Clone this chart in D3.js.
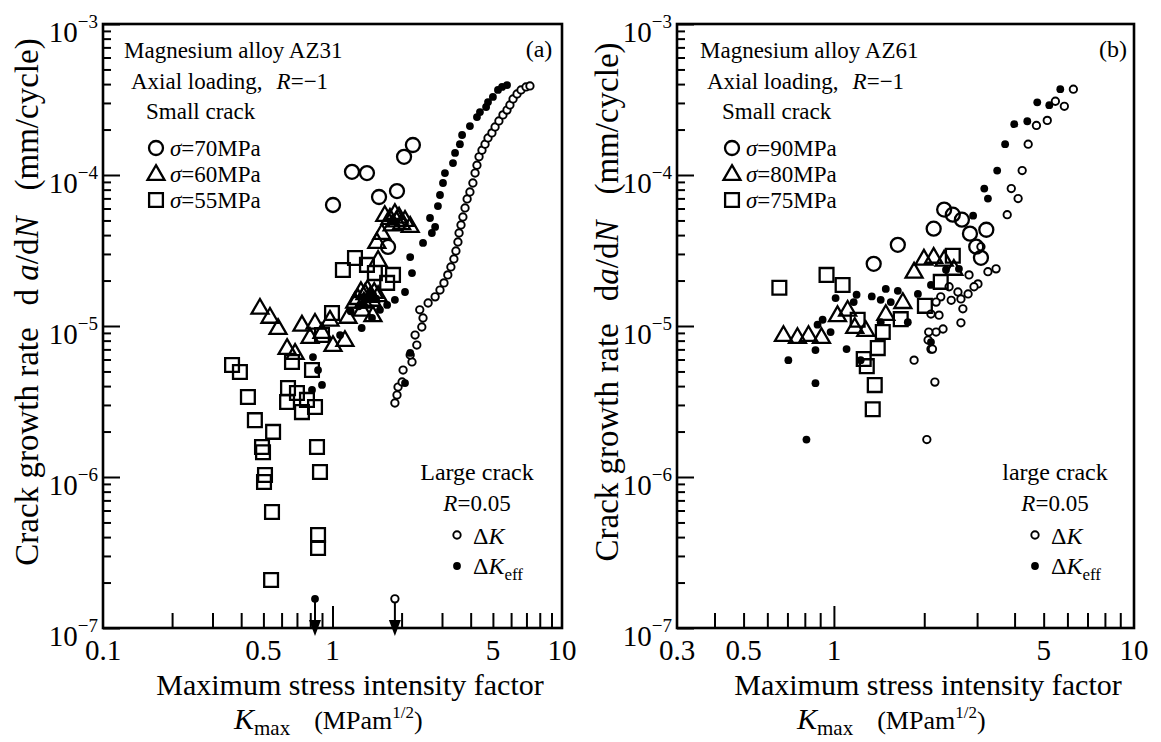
<!DOCTYPE html>
<html>
<head>
<meta charset="utf-8">
<script src="https://cdn.jsdelivr.net/npm/d3@7"></script>
<style>
  body { margin: 0; background: #fff; }
  svg { display: block; font-family: "Liberation Serif", "Times New Roman", serif; }
</style>
</head>
<body>
<svg id="chart" width="1161" height="742"></svg>
<script>
// ---- data: [Kmax (MPa m^1/2), da/dN (mm/cycle)] ----

// (a) AZ31, small cracks
const az31Sigma70 = [[1.005,6.33e-5],[1.216,1.05e-4],[1.413,1.03e-4],[1.595,7.15e-5],[1.91,7.83e-5],
  [2.05,1.32e-4],[2.24,1.58e-4],[1.746,3.34e-5]];
const az31Sigma60 = [[1.69,5.43e-5],[1.87,5.6e-5],[2.07,5.04e-5],[2.18,4.6e-5],[1.64,4.13e-5],[1.56,3.6e-5],
  [1.58,2.74e-5],[0.483,1.32e-5],[0.534,1.15e-5],[0.579,9.7e-6],[0.736,1.02e-5],[0.839,1.05e-5],
  [0.634,7.15e-6],[0.687,6.63e-6],[0.798,8.45e-6],[1.005,7.48e-6],[1.133,8.07e-6],[1.168,1.15e-5],
  [1.5,1.18e-5],[1.345,1.28e-5],[1.29,1.53e-5],[1.386,1.65e-5],[1.486,1.49e-5],[1.58,1.6e-5],
  [0.9,9.12e-6],[0.975,1.1e-5],[1.78,5.2e-5],[1.95,5.3e-5],[2.0,4.8e-5],[1.82,4.7e-5],[1.9,5.0e-5],
  [1.33,1.7e-5],[1.42,1.75e-5],[1.46,1.58e-5],[1.37,1.45e-5],[1.52,1.68e-5],[1.25,1.45e-5]];
const az31Sigma55 = [[1.11,2.35e-5],[1.253,2.82e-5],[1.413,2.54e-5],[1.53,2.24e-5],[1.835,2.18e-5],
  [1.73,1.93e-5],[0.995,1.22e-5],[0.9,8.71e-6],[0.666,5.78e-6],[0.365,5.52e-6],[0.395,4.96e-6],
  [0.428,3.39e-6],[0.814,5.11e-6],[0.64,3.88e-6],[0.7,3.6e-6],[0.634,3.14e-6],[0.774,3.24e-6],
  [0.839,2.91e-6],[0.736,2.69e-6],[0.459,2.38e-6],[0.551,1.99e-6],[0.493,1.58e-6],[0.498,1.46e-6],
  [0.856,1.58e-6],[0.508,1.03e-6],[0.882,1.08e-6],[0.503,9.27e-7],[0.545,5.86e-7],[0.54,2.08e-7],
  [0.865,4.13e-7],[0.865,3.39e-7]];
// (a) AZ31, large crack R=0.05
const az31LargeDK = [[1.87,3.09e-6],[1.91,3.49e-6],[1.93,3.94e-6],[2.01,4.26e-6],[2.03,5.11e-6],
  [2.22,5.78e-6],[2.18,6.43e-6],[2.33,7.48e-6],[2.29,8.71e-6],[2.45,9.85e-6],[2.48,1.13e-5],
  [2.4,1.28e-5],[2.61,1.42e-5],[2.8,1.56e-5],[2.94,1.73e-5],[3.06,1.93e-5],[3.18,2.18e-5],
  [3.28,2.46e-5],[3.38,2.78e-5],[3.45,3.14e-5],[3.52,3.6e-5],[3.56,4.13e-5],[3.63,4.67e-5],
  [3.7,5.27e-5],[3.78,6.05e-5],[3.86,6.94e-5],[3.97,7.72e-5],[4.09,8.85e-5],[4.18,1.03e-4],
  [4.26,1.16e-4],[4.35,1.32e-4],[4.48,1.46e-4],[4.62,1.6e-4],[4.76,1.76e-4],[4.95,1.9e-4],
  [5.11,2.08e-4],[5.31,2.28e-4],[5.53,2.5e-4],[5.76,2.69e-4],[5.93,2.91e-4],[6.12,3.19e-4],
  [6.37,3.44e-4],[6.63,3.66e-4],[6.97,3.83e-4],[7.25,3.89e-4]];
const az31LargeDKeff = [[0.822,6.23e-6],[0.865,5.11e-6],[0.9,4.07e-6],[0.814,3.77e-6],[1.079,8.71e-6],
  [1.34,9.7e-6],[1.486,1.13e-5],[1.61,1.28e-5],[1.87,1.49e-5],[1.73,1.38e-5],[2.07,1.68e-5],
  [2.22,2.24e-5],[2.18,2.86e-5],[2.48,3.55e-5],[2.71,4.13e-5],[2.8,4.53e-5],[2.66,5.19e-5],
  [2.88,6.23e-5],[2.94,7.37e-5],[3.03,8.85e-5],[3.09,1.03e-4],[3.35,1.2e-4],[3.42,1.4e-4],
  [3.59,1.6e-4],[3.67,1.84e-4],[3.97,2.11e-4],[4.26,2.42e-4],[4.39,2.61e-4],[4.67,2.82e-4],
  [4.76,3.04e-4],[5.0,3.29e-4],[5.26,3.66e-4],[5.48,3.83e-4],[5.76,3.94e-4],[2.18,6.63e-6],
  [2.07,4.19e-6],[1.4,1.5e-5],[1.5,1.62e-5],[1.55,1.52e-5],[1.3,1.35e-5],[1.2,1.25e-5]];
// points with a down arrow (rate below 1e-7): [K, rate, filled?]
const az31Arrows = [[0.839,1.56e-7,true],[1.87,1.56e-7,false]];

// (b) AZ61, small cracks
const az61Sigma90 = [[2.33,5.9e-5],[2.49,5.46e-5],[2.67,5.06e-5],[2.15,4.41e-5],[2.84,4.09e-5],
  [3.22,4.34e-5],[2.98,3.35e-5],[3.09,2.83e-5],[1.633,3.45e-5],[1.357,2.58e-5]];
const az61Sigma80 = [[0.679,8.71e-6],[0.756,8.45e-6],[0.823,8.71e-6],[0.909,8.45e-6],[1.028,1.18e-5],
  [1.111,1.28e-5],[1.173,9.85e-6],[1.277,9.4e-6],[1.489,1.2e-5],[1.697,1.44e-5],[1.85,2.29e-5],
  [1.995,2.79e-5],[2.15,2.87e-5],[2.33,2.75e-5],[2.51,2.39e-5]];
const az61Sigma75 = [[0.658,1.79e-5],[0.945,2.18e-5],[1.069,1.87e-5],[2.49,2.92e-5],[2.27,1.96e-5],
  [2.01,1.36e-5],[1.67,1.11e-5],[1.2,1.1e-5],[1.455,9.12e-6],[1.4,7.14e-6],[1.257,6.04e-6],
  [1.287,5.42e-6],[1.368,4.06e-6],[1.347,2.81e-6]];
// (b) AZ61, large crack R=0.05
const az61LargeDK = [[6.28,3.7e-4],[5.47,3.08e-4],[5.86,2.85e-4],[5.14,2.3e-4],[4.73,2.13e-4],
  [4.44,1.6e-4],[4.24,1.07e-4],[3.9,8.13e-5],[4.11,6.98e-5],[3.78,5.46e-5],[3.09,3.35e-5],
  [2.82,2.18e-5],[3.02,1.9e-5],[2.42,1.82e-5],[2.59,1.68e-5],[2.8,1.63e-5],[2.93,1.82e-5],
  [3.26,2.29e-5],[3.47,2.39e-5],[2.65,1.51e-5],[2.46,1.48e-5],[2.27,1.56e-5],[2.19,1.44e-5],
  [2.24,1.18e-5],[2.106,1.2e-5],[2.69,1.3e-5],[2.65,1.05e-5],[2.31,9.55e-6],[2.19,9.12e-6],
  [2.07,9.12e-6],[2.06,8.07e-6],[2.106,7.03e-6],[2.13,7.03e-6],[1.85,5.94e-6],[2.17,4.25e-6],
  [2.04,1.77e-6]];
const az61LargeDKeff = [[5.68,3.7e-4],[4.76,3.03e-4],[5.22,2.9e-4],[3.99,2.17e-4],[4.41,2.27e-4],
  [3.72,1.6e-4],[3.5,1.07e-4],[3.17,8.13e-5],[3.26,6.98e-5],[2.91,5.38e-5],[1.013,1.53e-5],
  [1.19,1.61e-5],[1.337,1.57e-5],[1.489,1.76e-5],[1.633,1.71e-5],[1.432,1.49e-5],[1.547,1.44e-5],
  [1.164,1.44e-5],[1.905,1.63e-5],[2.106,1.87e-5],[2.363,2.36e-5],[2.61,2.39e-5],[0.917,1.1e-5],
  [0.882,1.02e-5],[0.975,9.12e-6],[0.868,6.93e-6],[1.102,7.03e-6],[0.705,5.94e-6],[0.868,4.18e-6],
  [0.81,1.77e-6],[1.432,1.06e-5],[1.763,1.06e-5],[2.106,7.83e-6],[1.228,5.94e-6]];

// ticks
const az31XTicks = [0.1, 0.5, 1, 5, 10];
const az61XTicks = [0.3, 0.5, 1, 5, 10];
const yDecades = [-3, -4, -5, -6, -7];

// ---- layout ----
const svg = d3.select('#chart');
const plotTop = 24, plotBottom = 628;
const y = d3.scaleLog().domain([1e-7, 1e-3]).range([plotBottom, plotTop]);

const panels = [
  { x0: 103, x1: 562, domain: [0.1, 10], xTicks: az31XTicks,
    alloy: 'Magnesium alloy AZ31', tag: '(a)', legX: 124, tagX: 539,
    small: [['70', az31Sigma70], ['60', az31Sigma60], ['55', az31Sigma55]],
    dk: az31LargeDK, dkeff: az31LargeDKeff, arrows: az31Arrows,
    large: 'Large crack', largeX: 477, spaced: true, yTitleX: 38, titleX: 350, kX: 234 },
  { x0: 677, x1: 1134, domain: [0.3, 10], xTicks: az61XTicks,
    alloy: 'Magnesium alloy AZ61', tag: '(b)', legX: 700, tagX: 1113,
    small: [['90', az61Sigma90], ['80', az61Sigma80], ['75', az61Sigma75]],
    dk: az61LargeDK, dkeff: az61LargeDKeff, arrows: [],
    large: 'large crack', largeX: 1055, spaced: false, yTitleX: 618, titleX: 928, kX: 797 }
];

const tri = d3.symbol().type(d3.symbolTriangle).size(125);
const sq = d3.symbol().type(d3.symbolSquare).size(190);

function drawMarker(g, kind, cx, cy) {
  if (kind === 'bigCircle') {
    g.append('circle').attr('cx', cx).attr('cy', cy).attr('r', 7)
      .attr('fill', 'none').attr('stroke', '#000').attr('stroke-width', 2.3);
  } else if (kind === 'triangle') {
    g.append('path').attr('d', tri).attr('transform', `translate(${cx},${cy + 1})`)
      .attr('fill', 'none').attr('stroke', '#000').attr('stroke-width', 2.3);
  } else if (kind === 'square') {
    g.append('path').attr('d', sq).attr('transform', `translate(${cx},${cy})`)
      .attr('fill', 'none').attr('stroke', '#000').attr('stroke-width', 2.3);
  } else if (kind === 'smallOpen') {
    g.append('circle').attr('cx', cx).attr('cy', cy).attr('r', 3.7)
      .attr('fill', '#fff').attr('stroke', '#000').attr('stroke-width', 1.9);
  } else {
    g.append('circle').attr('cx', cx).attr('cy', cy).attr('r', 3.9).attr('fill', '#000');
  }
}

const smallKinds = ['bigCircle', 'triangle', 'square'];

panels.forEach(p => {
  const x = d3.scaleLog().domain(p.domain).range([p.x0, p.x1]);
  const g = svg.append('g');

  // ticks (inward)
  const yMinor = y.ticks().filter(v => Math.abs(Math.log10(v) - Math.round(Math.log10(v))) > 1e-6);
  const yMajor = y.ticks().filter(v => !yMinor.includes(v));
  const yAxMinor = g.append('g').attr('transform', `translate(${p.x0},0)`)
    .call(d3.axisRight(y).tickValues(yMinor).tickSize(8).tickFormat(''));
  const yAxMajor = g.append('g').attr('transform', `translate(${p.x0},0)`)
    .call(d3.axisRight(y).tickValues(yMajor).tickSize(17).tickFormat(''));
  const kMinor = x.ticks().filter(v => v > p.domain[0] * 1.001 && v < p.domain[1] * 0.999 && Math.abs(v - 1) > 1e-9);
  const xAxMinor = g.append('g').attr('transform', `translate(0,${plotBottom})`)
    .call(d3.axisTop(x).tickValues(kMinor).tickSize(15).tickFormat(''));
  const xAxMajor = g.append('g').attr('transform', `translate(0,${plotBottom})`)
    .call(d3.axisTop(x).tickValues([1]).tickSize(22).tickFormat(''));
  [yAxMinor, yAxMajor, xAxMinor, xAxMajor].forEach(a => {
    a.select('.domain').remove();
    a.selectAll('line').attr('stroke', '#000').attr('stroke-width', 2);
  });

  // frame
  g.append('rect').attr('x', p.x0).attr('y', plotTop)
    .attr('width', p.x1 - p.x0).attr('height', plotBottom - plotTop)
    .attr('fill', 'none').attr('stroke', '#000').attr('stroke-width', 2.6);

  // y tick labels 10^n
  yDecades.forEach(e => {
    const t = g.append('text').attr('x', p.x0 - 5).attr('y', y(Math.pow(10, e)) + 18)
      .attr('text-anchor', 'end').attr('font-size', 29);
    t.append('tspan').text('10');
    t.append('tspan').attr('dy', -14).attr('font-size', 19).text('\u2212' + Math.abs(e));
  });

  // x tick labels
  p.xTicks.forEach(v => {
    g.append('text').attr('x', x(v)).attr('y', plotBottom + 32)
      .attr('text-anchor', 'middle').attr('font-size', 29).text(String(v));
  });

  // data: large-crack curves first, then small cracks on top
  p.dk.forEach(d => drawMarker(g, 'smallOpen', x(d[0]), y(d[1])));
  p.dkeff.forEach(d => drawMarker(g, 'dot', x(d[0]), y(d[1])));
  p.small.forEach((s, i) => s[1].forEach(d => drawMarker(g, smallKinds[i], x(d[0]), y(d[1]))));

  // below-range arrows
  p.arrows.forEach(d => {
    const ax = x(d[0]), ay = y(d[1]);
    g.append('line').attr('x1', ax).attr('x2', ax).attr('y1', ay).attr('y2', plotBottom)
      .attr('stroke', '#000').attr('stroke-width', 2);
    g.append('path').attr('d', `M${ax - 6},${plotBottom - 8}L${ax + 6},${plotBottom - 8}L${ax},${plotBottom + 8}Z`)
      .attr('fill', '#000');
    drawMarker(g, d[2] ? 'dot' : 'smallOpen', ax, ay);
  });

  // legend, upper left
  const fs = 23;
  g.append('text').attr('x', p.legX).attr('y', 58).attr('font-size', fs).text(p.alloy);
  const ax = g.append('text').attr('x', p.legX + 7).attr('y', 89).attr('font-size', fs);
  ax.append('tspan').text('Axial loading,');
  ax.append('tspan').attr('dx', 14).attr('font-style', 'italic').text('R');
  ax.append('tspan').text('=\u22121');
  g.append('text').attr('x', p.legX + 22).attr('y', 119).attr('font-size', fs).text('Small crack');
  p.small.forEach((s, i) => {
    const cy = 148 + i * 26;
    drawMarker(g, smallKinds[i], p.legX + 32, cy);
    const t = g.append('text').attr('x', p.legX + 46).attr('y', cy + 8).attr('font-size', fs);
    t.append('tspan').attr('font-style', 'italic').text('\u03c3');
    t.append('tspan').text('=' + s[0] + 'MPa');
  });
  g.append('text').attr('x', p.tagX).attr('y', 57).attr('text-anchor', 'middle')
    .attr('font-size', fs + 1).text(p.tag);

  // legend, lower right
  g.append('text').attr('x', p.largeX).attr('y', 480).attr('text-anchor', 'middle')
    .attr('font-size', fs + 1).text(p.large);
  const r = g.append('text').attr('x', p.largeX).attr('y', 511).attr('text-anchor', 'middle').attr('font-size', fs);
  r.append('tspan').attr('font-style', 'italic').text('R');
  r.append('tspan').text('=0.05');
  const lx = p.largeX - 20;
  drawMarker(g, 'smallOpen', lx, 535);
  const t1 = g.append('text').attr('x', lx + 16).attr('y', 544).attr('font-size', fs + 1);
  t1.append('tspan').text('\u0394');
  t1.append('tspan').attr('font-style', 'italic').text('K');
  drawMarker(g, 'dot', lx, 566);
  const t2 = g.append('text').attr('x', lx + 16).attr('y', 574).attr('font-size', fs + 1);
  t2.append('tspan').text('\u0394');
  t2.append('tspan').attr('font-style', 'italic').text('K');
  t2.append('tspan').attr('dy', 6).attr('font-size', 17).text('eff');

  // axis titles
  g.append('text').attr('x', p.titleX).attr('y', 695).attr('text-anchor', 'middle')
    .attr('font-size', 30).text('Maximum stress intensity factor');
  const k = g.append('text').attr('x', p.kX).attr('y', 729).attr('font-size', 30);
  k.append('tspan').attr('font-style', 'italic').text('K');
  k.append('tspan').attr('dy', 6).attr('font-size', 21).text('max');
  k.append('tspan').attr('dy', -6).attr('dx', 24).attr('font-size', 26).text('(MPam');
  k.append('tspan').attr('dy', -11).attr('font-size', 17).text('1/2');
  k.append('tspan').attr('dy', 11).attr('font-size', 26).text(')');

  const yt = g.append('text').attr('transform', `translate(${p.yTitleX},302) rotate(-90)`)
    .attr('text-anchor', 'middle').attr('font-size', 33);
  yt.append('tspan').text('Crack growth rate');
  yt.append('tspan').attr('dx', 22).text(p.spaced ? 'd ' : 'd');
  yt.append('tspan').attr('font-style', 'italic').text('a');
  yt.append('tspan').text('/d');
  yt.append('tspan').attr('font-style', 'italic').text('N');
  yt.append('tspan').attr('dx', 26).text('(mm/cycle)');
});
</script>
</body>
</html>
